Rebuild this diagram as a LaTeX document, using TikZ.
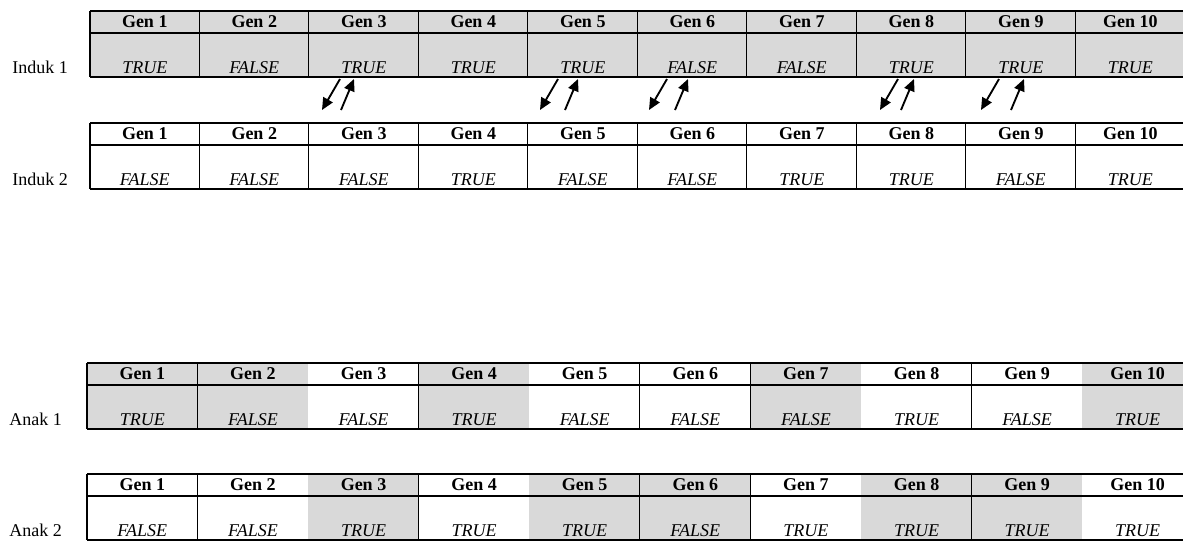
\documentclass[tikz,border=0pt]{standalone}
\usepackage{fontspec}
\setmainfont{Liberation Serif}
\usetikzlibrary{arrows.meta}

\definecolor{cellgray}{RGB}{217,217,217}

\tikzset{
  hdr/.style={font=\fontsize{13.5}{15}\selectfont\bfseries, anchor=base, inner sep=0pt},
  val/.style={font=\fontsize{13.5}{15}\selectfont\itshape, anchor=base, inner sep=0pt},
  rowlabel/.style={font=\fontsize{13.5}{15}\selectfont, anchor=base west, inner sep=0pt},
  heavyrule/.style={line width=1.6pt},
  lightrule/.style={line width=0.9pt},
  swaparrow/.style={-{Triangle[length=9pt,width=8pt]}, line width=1.4pt},
}

% #1 name, #2 left x, #3 top y, #4 column width, #5 label, #6 value/fill list
\newcommand{\gentable}[6]{%
  \foreach \v/\g [count=\c] in {#6} {
    \fill[\g] ({#2+(\c-1)*#4}, #3) rectangle ({#2+\c*#4}, #3+66);
    \draw[lightrule] ({#2+\c*#4}, #3) -- ({#2+\c*#4}, #3+66);
    \node[hdr] (#1h\c) at ({#2+(\c-0.5)*#4}, #3+16) {Gen \c};
    \node[val] (#1v\c) at ({#2+(\c-0.5)*#4}, #3+62) {\v};
  }
  \draw[heavyrule] (#2, #3) -- ({#2+10*#4}, #3);
  \draw[heavyrule] (#2, #3+22) -- ({#2+10*#4}, #3+22);
  \draw[heavyrule] (#2, #3+66) -- ({#2+10*#4}, #3+66);
  \draw[heavyrule] (#2, #3) -- (#2, #3+66);
}

\begin{document}
\begin{tikzpicture}[x=0.75pt, y=-0.75pt]
  \useasboundingbox (0,0) rectangle (1183,540);
  \clip (0,0) rectangle (1183,540);

  % Induk 1
  \gentable{ia}{90}{11}{109.5}{}{TRUE/cellgray, FALSE/cellgray, TRUE/cellgray, TRUE/cellgray, TRUE/cellgray,
    FALSE/cellgray, FALSE/cellgray, TRUE/cellgray, TRUE/cellgray, TRUE/cellgray}
  \node[rowlabel] (induka) at (12, 73) {Induk 1};

  % Induk 2
  \gentable{ib}{90}{123}{109.5}{}{FALSE/white, FALSE/white, FALSE/white, TRUE/white, FALSE/white,
    FALSE/white, TRUE/white, TRUE/white, FALSE/white, TRUE/white}
  \node[rowlabel] (indukb) at (12, 185) {Induk 2};

  % crossover arrows
  \foreach \c/\xd/\xu in {3/340/341, 5/558/565, 6/667/675, 8/898/901, 9/999/1011} {
    \coordinate (dns\c) at (\xd, 79);
    \coordinate (dne\c) at (\xd-18, 110);
    \coordinate (ups\c) at (\xu, 110);
    \coordinate (upe\c) at (\xu+13, 79);
    \draw[swaparrow] (dns\c) -- (dne\c);
    \draw[swaparrow] (ups\c) -- (upe\c);
  }

  % Anak 1
  \gentable{aa}{87}{363}{110.6}{}{TRUE/cellgray, FALSE/cellgray, FALSE/white, TRUE/cellgray, FALSE/white,
    FALSE/white, FALSE/cellgray, TRUE/white, FALSE/white, TRUE/cellgray}
  \node[rowlabel] (anaka) at (9, 425) {Anak 1};

  % Anak 2
  \gentable{ab}{87}{474}{110.6}{}{FALSE/white, FALSE/white, TRUE/cellgray, TRUE/white, TRUE/cellgray,
    FALSE/cellgray, TRUE/white, TRUE/cellgray, TRUE/cellgray, TRUE/white}
  \node[rowlabel] (anakb) at (9, 536) {Anak 2};
\end{tikzpicture}
\end{document}
